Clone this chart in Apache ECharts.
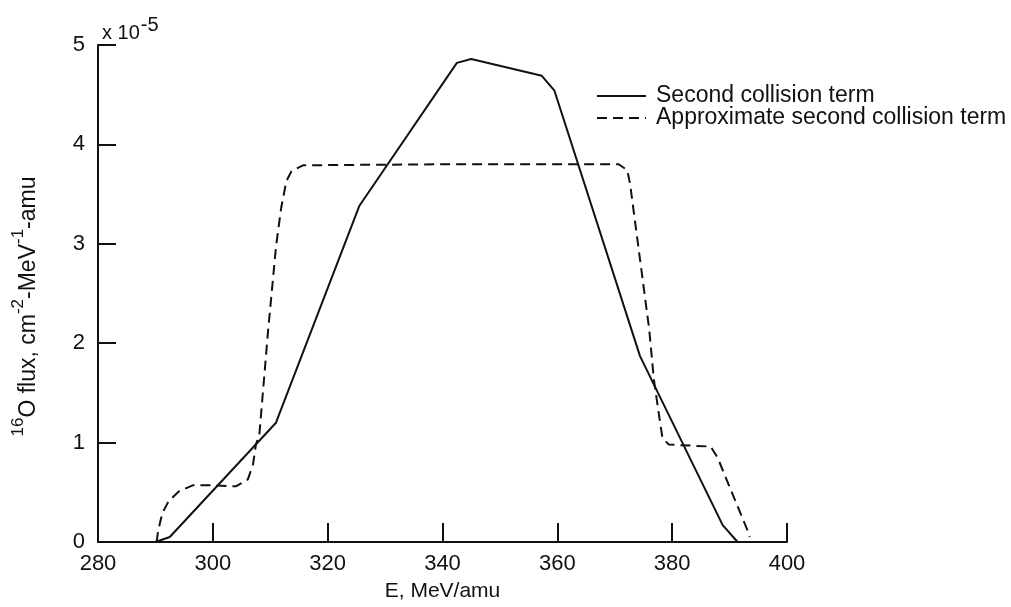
<!DOCTYPE html>
<html>
<head>
<meta charset="utf-8">
<script src="https://cdn.jsdelivr.net/npm/echarts@6/dist/echarts.min.js"></script>
<style>
  html, body { margin: 0; padding: 0; background: #fff; }
  #chart { width: 1011px; height: 607px; }
</style>
</head>
<body>
<div id="chart"></div>
<script>
// Energy in MeV/amu, flux in units of 1e-5 cm^-2 MeV^-1 amu
const secondE    = [290, 292.5, 311, 325.5, 342.5, 345, 357.3, 359.5, 374.4, 388.8, 391.4];
const secondFlux = [0, 0.05, 1.2, 3.38, 4.82, 4.86, 4.69, 4.54, 1.87, 0.17, 0];

const approxE    = [290.2, 290.5, 291.2, 292.3, 294.1, 296.5, 300, 304, 306.1, 307, 307.5, 308.1, 309.6, 311, 311.9, 312.8, 313.7, 315.7, 340, 370.7, 372.2, 372.7, 374.5, 376, 376.8, 377.9, 378.3, 379.4, 386.7, 387.9, 393.1, 393.5];
const approxFlux = [0, 0.12, 0.29, 0.41, 0.51, 0.57, 0.57, 0.56, 0.63, 0.78, 0.98, 1.08, 2.11, 2.97, 3.36, 3.63, 3.73, 3.79, 3.8, 3.8, 3.74, 3.59, 2.8, 2.14, 1.64, 1.2, 1.05, 0.98, 0.96, 0.85, 0.12, 0.05];

const seriesNames = ['Second collision term', 'Approximate second collision term'];
const xTicks = { min: 280, max: 400, step: 20 };
const yTicks = { min: 0, max: 5, step: 1 };

const FONT = '"Liberation Sans", Arial, Helvetica, sans-serif';
const INK = '#111';

const pairs = (xs, ys) => xs.map((x, i) => [x, ys[i]]);

const chart = echarts.init(document.getElementById('chart'), null, { renderer: 'canvas' });

chart.setOption({
  backgroundColor: '#fff',
  animation: false,
  title: {
    text: '{a|x 10}{b|-5}',
    left: 97,
    top: 10,
    textStyle: {
      fontWeight: 'normal',
      rich: {
        a: { fontFamily: FONT, fontSize: 20, fontWeight: 'normal', color: INK, lineHeight: 28, verticalAlign: 'bottom' },
        b: { fontFamily: FONT, fontSize: 20, fontWeight: 'normal', color: INK, lineHeight: 28, verticalAlign: 'top', padding: [0, 0, 0, 1] }
      }
    }
  },
  legend: {
    orient: 'vertical',
    left: 591,
    top: 74,
    itemWidth: 49,
    itemHeight: 14,
    itemGap: -12,
    data: seriesNames,
    itemStyle: { opacity: 0 },
    textStyle: { fontFamily: FONT, fontSize: 23, color: INK, lineHeight: 22, padding: [0, 0, 12, 5] }
  },
  grid: { left: 98, right: 224, top: 45, bottom: 57, containLabel: false },
  xAxis: {
    type: 'value',
    min: xTicks.min,
    max: xTicks.max,
    interval: xTicks.step,
    name: 'E, MeV/amu',
    nameLocation: 'middle',
    nameGap: 39,
    nameTextStyle: { fontFamily: FONT, fontSize: 21, color: INK },
    axisLine: { lineStyle: { color: INK, width: 2 } },
    axisTick: { inside: true, length: 19, lineStyle: { color: INK, width: 2 } },
    axisLabel: { fontFamily: FONT, fontSize: 22, color: INK, margin: 11 },
    splitLine: { show: false }
  },
  yAxis: {
    type: 'value',
    min: yTicks.min,
    max: yTicks.max,
    interval: yTicks.step,
    name: '{sup|16}{n|O flux, cm}{sup|-2}{n|-MeV}{sup|-1}{n|-amu}',
    nameLocation: 'middle',
    nameRotate: 90,
    nameGap: 58,
    nameTextStyle: {
      padding: [0, 26, 0, 0],
      rich: {
        n: { fontFamily: FONT, fontSize: 23, color: INK, lineHeight: 30, verticalAlign: 'bottom' },
        sup: { fontFamily: FONT, fontSize: 17, color: INK, lineHeight: 30, verticalAlign: 'top' }
      }
    },
    axisLine: { lineStyle: { color: INK, width: 2 } },
    axisTick: { inside: true, length: 18, lineStyle: { color: INK, width: 2 } },
    axisLabel: { fontFamily: FONT, fontSize: 22, color: INK, margin: 13 },
    splitLine: { show: false }
  },
  series: [
    {
      name: seriesNames[0],
      type: 'line',
      data: pairs(secondE, secondFlux),
      symbol: 'none',
      showSymbol: false,
      lineStyle: { color: INK, width: 2, type: 'solid' },
      itemStyle: { color: INK }
    },
    {
      name: seriesNames[1],
      type: 'line',
      data: pairs(approxE, approxFlux),
      symbol: 'none',
      showSymbol: false,
      lineStyle: { color: INK, width: 2, type: [10, 6] },
      itemStyle: { color: INK }
    }
  ]
});
</script>
</body>
</html>
